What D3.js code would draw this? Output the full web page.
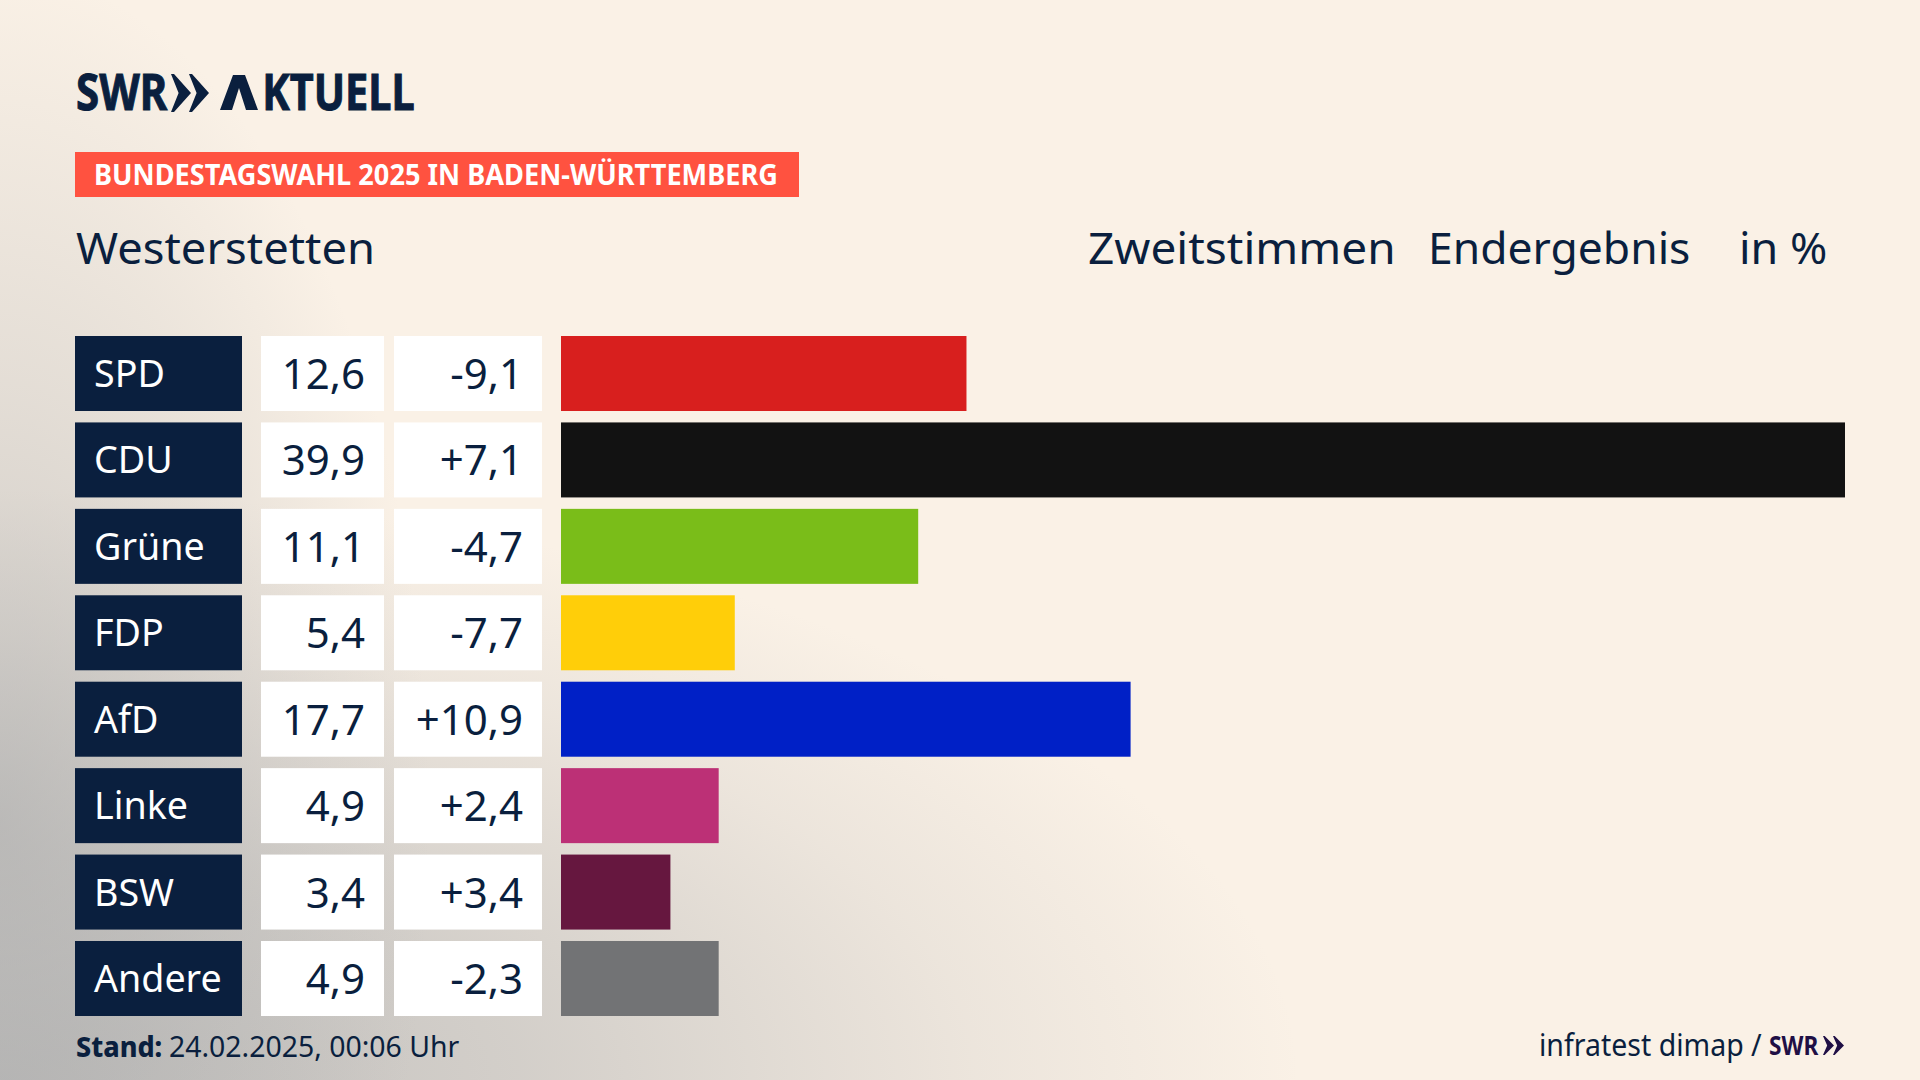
<!DOCTYPE html>
<html>
<head>
  <meta charset="utf-8">
  <script src="https://d3js.org/d3.v7.min.js"></script>
  <title>Bundestagswahl 2025</title>
  <style>
    * { margin: 0; padding: 0; }
    body { background: #faf1e6; overflow: hidden; }
    text { font-family: "Noto Sans", sans-serif; }
  </style>
</head>
<body>
<div id="graph"></div>
<script>
  var parties = ["SPD", "CDU", "Grüne", "FDP", "AfD", "Linke", "BSW", "Andere"];
  var shares = [12.6, 39.9, 11.1, 5.4, 17.7, 4.9, 3.4, 4.9];
  var changes = ["-9,1", "+7,1", "-4,7", "-7,7", "+10,9", "+2,4", "+3,4", "-2,3"];
  var colors = ["#d81f1e", "#121212", "#7abd19", "#ffce09", "#0020c6", "#bc3076", "#66173f", "#727375"];

  var w = 1920;
  var h = 1080;
  var navy = "#0a1f3e";

  var svg = d3.select("#graph").append("svg")
    .attr("width", w)
    .attr("height", h)
    .style("display", "block");

  // background: cream, grey glows along the bottom and the left edge
  var defs = svg.append("defs");
  function glow(id, cx, cy, rx, ry, stops) {
    var g = defs.append("radialGradient")
      .attr("id", id)
      .attr("gradientUnits", "userSpaceOnUse")
      .attr("cx", 0).attr("cy", 0).attr("r", 1)
      .attr("gradientTransform", "translate(" + cx + "," + cy + ") scale(" + rx + "," + ry + ")");
    stops.forEach(function(s) {
      g.append("stop").attr("offset", s[0]).attr("stop-color", "#a9aaab").attr("stop-opacity", s[1]);
    });
    svg.append("rect").attr("width", w).attr("height", h).attr("fill", "url(#" + id + ")");
  }
  svg.append("rect").attr("width", w).attr("height", h).attr("fill", "#faf1e6");
  glow("glowBottom", 0, 1080, 1300, 590, [[0, 0.74], [0.4, 0.48], [0.75, 0.17], [1, 0]]);
  glow("glowLeft", 0, 820, 430, 850, [[0, 0.6], [0.5, 0.28], [1, 0]]);

  // text helper, sx squeezes the font horizontally
  function label(str, x, y, size, anchor, sx, fill, weight) {
    return svg.append("text")
      .attr("transform", "translate(" + x + "," + y + ") scale(" + sx + ",1)")
      .attr("text-anchor", anchor)
      .attr("font-size", size)
      .attr("font-weight", weight || 400)
      .attr("fill", fill || navy)
      .text(str);
  }

  function chevrons(x, y, cw, ch, gap, fill) {
    [0, 1].forEach(function(i) {
      var x0 = x + i * gap;
      svg.append("path")
        .attr("d", "M" + x0 + "," + y + "L" + (x0 + cw * 0.15) + "," + y + "L" + (x0 + cw) + "," + (y + ch / 2) +
          "L" + (x0 + cw * 0.15) + "," + (y + ch) + "L" + x0 + "," + (y + ch) + "L" + (x0 + cw * 0.38) + "," + (y + ch / 2) + "Z")
        .attr("fill", fill);
    });
  }

  // header
  label("SWR", 76, 110, 50, "start", 0.84, navy, 700).attr("stroke", navy).attr("stroke-width", 1);
  chevrons(171, 74, 20, 38, 18, navy);

  // the logo A has no crossbar: keep the word whole, hide the A and draw its shape
  var aktuell = label("", 221, 110, 50, "start", 0.83, navy, 700).attr("stroke", navy).attr("stroke-width", 1);
  aktuell.append("tspan").attr("fill", "none").attr("stroke", "none").text("A");
  aktuell.append("tspan").attr("dx", 15).text("KTUELL");
  svg.append("path")
    .attr("d", "M220,110L233,75L245,75L258,110L246,110L239,88L232,110Z")
    .attr("fill", navy);

  svg.append("rect").attr("x", 75).attr("y", 152).attr("width", 724).attr("height", 45).attr("fill", "#ff5240");
  label("BUNDESTAGSWAHL 2025 IN BADEN-WÜRTTEMBERG", 94, 185, 28, "start", 0.97, "#fff", 700);

  label("Westerstetten", 76, 264, 44, "start", 1.03);
  label("Zweitstimmen", 1088, 264, 44, "start", 1.045);
  label("Endergebnis", 1428, 264, 44, "start", 1.01);
  label("in %", 1739, 264, 44, "start", 1.02);

  // rows
  var y = d3.scaleBand().domain(parties).range([336, 1016]).paddingInner(0.1322);
  var x = d3.scaleLinear().domain([0, 39.9]).range([561, 1845]);

  svg.selectAll(".name").data(parties).enter().append("rect")
    .attr("x", 75).attr("width", 167)
    .attr("y", function(d) { return y(d); })
    .attr("height", y.bandwidth())
    .attr("fill", navy);

  svg.selectAll(".share").data(parties).enter().append("rect")
    .attr("x", 261).attr("width", 123)
    .attr("y", function(d) { return y(d); })
    .attr("height", y.bandwidth())
    .attr("fill", "#fff");

  svg.selectAll(".change").data(parties).enter().append("rect")
    .attr("x", 394).attr("width", 148)
    .attr("y", function(d) { return y(d); })
    .attr("height", y.bandwidth())
    .attr("fill", "#fff");

  svg.selectAll(".bar").data(shares).enter().append("rect")
    .attr("class", "bar")
    .attr("x", x(0))
    .attr("y", function(d, i) { return y(parties[i]); })
    .attr("width", function(d) { return x(d) - x(0); })
    .attr("height", y.bandwidth())
    .attr("fill", function(d, i) { return colors[i]; });

  parties.forEach(function(p, i) {
    var base = y(p) + 51;
    label(p, 94, base, 38, "start", 0.99, "#fff");
    label(shares[i].toFixed(1).replace(".", ","), 365, base + 2, 42, "end", 1);
    label(changes[i], 523, base + 2, 42, "end", 1);
  });

  // footer
  label("Stand:", 76, 1057, 29, "start", 0.93, navy, 800);
  label("24.02.2025, 00:06 Uhr", 169, 1057, 29, "start", 0.98);
  label("infratest dimap /", 1539, 1056, 30, "start", 0.95);
  label("SWR", 1769, 1055, 27, "start", 0.84, "#1f0f45", 700);
  chevrons(1823, 1036, 11, 19, 10, "#1f0f45");
</script>
</body>
</html>
